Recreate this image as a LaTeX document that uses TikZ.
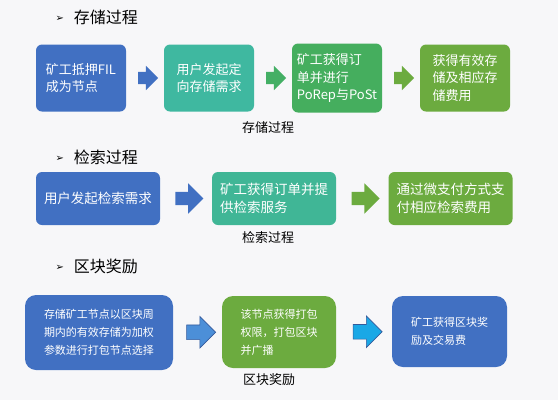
\documentclass[tikz,border=0pt]{standalone}
\usepackage{fontspec}
\setmainfont{Noto Sans CJK SC}
\newfontfamily\symfont{DejaVu Sans}
\usetikzlibrary{shapes.arrows, calc}

\definecolor{stepblue}{HTML}{4170C2}
\definecolor{stepteal}{HTML}{3FB8A0}
\definecolor{stepgreen}{HTML}{45AE5E}
\definecolor{stepleaf}{HTML}{6CAB3F}
\definecolor{arrowsky}{HTML}{4C8FD8}
\definecolor{arrowcyan}{HTML}{1AA8E6}
\definecolor{pagebg}{HTML}{F7F7F9}

\newcommand{\bulletmark}{\raisebox{1.5pt}{\symfont\fontsize{10}{10}\selectfont ➢}\hspace{10pt}}

\tikzset{
  box/.style={rounded corners=6pt, text=white, align=left, inner sep=4pt},
  rowone/.style={box, minimum width=90pt, minimum height=67pt, font=\fontsize{13}{17.5}\selectfont},
  rowtwo/.style={box, minimum width=124pt, minimum height=53pt, font=\fontsize{13.5}{18}\selectfont},
  rowthree/.style={box, rounded corners=11pt, minimum height=72pt, font=\fontsize{11}{18}\selectfont},
  blockarrow/.style={single arrow, inner sep=0pt, text height=12pt, text depth=0pt, single arrow head extend=6pt, minimum height=20pt},
  bigarrow/.style={single arrow, inner sep=0pt, text height=14pt, text depth=0pt, single arrow head extend=8.5pt, minimum height=29pt},
  heading/.style={font=\fontsize{16}{18}\selectfont, anchor=west},
  caption/.style={font=\fontsize{13}{15}\selectfont}
}

\begin{document}
\begin{tikzpicture}[x=1pt,y=-1pt]
	\useasboundingbox (0,0) rectangle (558,400);
	\fill[pagebg] (0,0) rectangle (558,400);
	%
	% storage process
	\node[heading] (t1) at (52,17) {\bulletmark 存储过程};
	\node[rowone, fill=stepblue] (s1) at (81,78) {矿工抵押FIL\\成为节点};
	\node[rowone, fill=stepteal] (s2) at (209,78) {用户发起定\\向存储需求};
	\node[rowone, fill=stepgreen, minimum height=69pt] (s3) at (337,78) {矿工获得订\\单并进行\\PoRep与PoSt};
	\node[rowone, fill=stepleaf] (s4) at (465,78) {获得有效存\\储及相应存\\储费用};
	\node[blockarrow, fill=stepblue] (a1) at ($(s1.east)!0.5!(s2.west)$) {};
	\node[blockarrow, fill=stepgreen!90!stepteal] (a2) at ($(s2.east)!0.5!(s3.west)$) {};
	\node[blockarrow, fill=stepleaf] (a3) at ($(s3.east)!0.5!(s4.west)$) {};
	\node[caption] (c1) at (268,128) {存储过程};
	%
	% retrieval process
	\node[heading] (t2) at (52,157) {\bulletmark 检索过程};
	\node[rowtwo, fill=stepblue] (r1) at (98,198.5) {用户发起检索需求};
	\node[rowtwo, fill=stepteal!85!stepgreen] (r2) at (274,198.5) {矿工获得订单并提\\供检索服务};
	\node[rowtwo, fill=stepleaf] (r3) at (450.5,198.5) {通过微支付方式支\\付相应检索费用};
	\node[bigarrow, fill=stepblue, minimum height=28pt, text height=13pt] (b1) at ($(r1.east)!0.5!(r2.west)$) {};
	\node[bigarrow, fill=stepleaf, minimum height=28pt, text height=13pt] (b2) at ($(r2.east)!0.5!(r3.west)$) {};
	\node[caption] (c2) at (268,238) {检索过程};
	%
	% block reward
	\node[heading] (t3) at (52,266) {\bulletmark 区块奖励};
	\node[rowthree, fill=stepblue, minimum width=148pt, minimum height=75pt] (k1) at (99,332.5) {存储矿工节点以区块周\\期内的有效存储为加权\\参数进行打包节点选择};
	\node[rowthree, fill=stepleaf, minimum width=114pt] (k2) at (279,332) {该节点获得打包\\权限，打包区块\\并广播};
	\node[rowthree, fill=stepblue, minimum width=115pt, minimum height=71pt] (k3) at (449.5,331.5) {矿工获得区块奖\\励及交易费};
	\node[bigarrow, fill=arrowsky, draw=stepblue!80!black, line width=0.6pt] (d1) at ($(k1.east)!0.5!(k2.west)$) {};
	\node[bigarrow, fill=arrowcyan, draw=stepblue!80!black, line width=0.6pt] (d2) at ($(k2.east)!0.5!(k3.west)$) {};
	\node[caption] (c3) at (269,380) {区块奖励};
\end{tikzpicture}
\end{document}
